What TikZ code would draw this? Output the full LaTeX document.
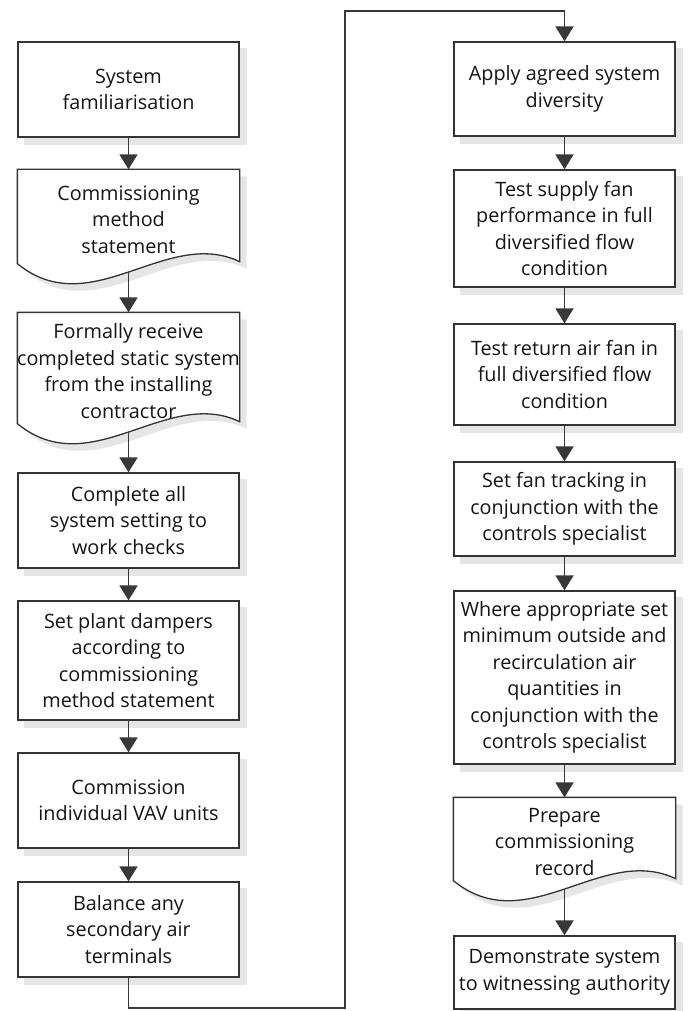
\documentclass[tikz,border=0pt]{standalone}
\usepackage{fontspec}
\setmainfont{Open Sans}
\usetikzlibrary{arrows.meta,calc}
\pgfdeclarelayer{shade}
\pgfdeclarelayer{links}
\pgfsetlayers{shade,links,main}

\definecolor{boxline}{gray}{0.2}
\definecolor{linecol}{gray}{0.22}
\definecolor{textcol}{gray}{0.08}
\definecolor{shadecol}{gray}{0.9}

\tikzset{
  box/.style={draw=boxline, line width=1.3pt, fill=white, minimum width=221pt,
    inner sep=0pt, align=center, text=textcol,
    font=\fontsize{19.8}{26.5}\selectfont},
  docbox/.style={box, draw=none, fill=none},
  link/.style={draw=linecol, line width=1.9pt,
    -{Triangle[length=15pt,width=18pt]}},
}

% drop shadow of a rectangular step
\newcommand\rectshadow[1]{%
  \begin{pgfonlayer}{shade}
    \fill[shadecol] ($(#1.north west)+(7,7)$) rectangle ($(#1.south east)+(7,7)$);
  \end{pgfonlayer}}

% document shape (wavy lower edge) around a docbox node, with its text
\newcommand\docshape[2]{%
  \begin{pgfonlayer}{shade}
    \fill[shadecol] ($(#1.north west)+(7,7)$) -- ($(#1.north east)+(7,7)$)
      -- ($(#1.south east)+(7,5)$)
      .. controls ($(#1.south east)+(-66.7,-30)$) and ($(#1.south west)+(80.7,67)$)
      .. ($(#1.south west)+(7,7)$) -- cycle;
  \end{pgfonlayer}
  \draw[boxline, line width=1.3pt, fill=white]
    (#1.north west) -- (#1.north east) -- ($(#1.south east)+(0,-2)$)
    .. controls ($(#1.south east)+(-73.7,-37)$) and ($(#1.south west)+(73.7,60)$)
    .. (#1.south west) -- cycle;
  \node[docbox, minimum height=0pt] (#1text) at ($(#1)+(0,3)$) {#2};}

\begin{document}
\begin{tikzpicture}[x=1pt,y=-1pt]
\useasboundingbox (0,0) rectangle (694,1011);

% left column
\node[box, minimum height=95pt]  (l1) at (128.5,89.5) {System\\familiarisation};
\node[docbox, minimum height=93pt] (l2) at (128.5,216.5) {};
\node[docbox, minimum height=110pt] (l3) at (128.5,368) {};
\node[box, minimum height=95pt]  (l4) at (128.5,520.5) {Complete all\\system setting to\\work checks};
\node[box, minimum height=119pt] (l5) at (128.5,660.5) {Set plant dampers\\according to\\commissioning\\method statement};
\node[box, minimum height=95pt]  (l6) at (128.5,800.5) {Commission\\individual VAV units};
\node[box, minimum height=95pt]  (l7) at (128.5,929.5) {Balance any\\secondary air\\terminals};

% right column
\node[box, minimum height=94pt]  (r1) at (564.5,89) {Apply agreed system\\diversity};
\node[box, minimum height=117pt] (r2) at (564.5,228.5) {Test supply fan\\performance in full\\diversified flow\\condition};
\node[box, minimum height=101pt] (r3) at (564.5,374.5) {Test return air fan in\\full diversified flow\\condition};
\node[box, minimum height=94pt]  (r4) at (564.5,509) {Set fan tracking in\\conjunction with the\\controls specialist};
\node[box, minimum height=173pt] (r5) at (564.5,677.5) {Where appropriate set\\minimum outside and\\recirculation air\\quantities in\\conjunction with the\\controls specialist};
\node[docbox, minimum height=82pt] (r6) at (564.5,839) {};
\node[box, minimum height=73pt]  (r7) at (564.5,972.5) {Demonstrate system\\to witnessing authority};

% document-shaped steps
\docshape{l2}{Commissioning\\method\\statement}
\docshape{l3}{Formally receive\\completed static system\\from the installing\\contractor}
\docshape{r6}{Prepare\\commissioning\\record}

\foreach \n in {l1,l4,l5,l6,l7,r1,r2,r3,r4,r5,r7} {\rectshadow{\n}}

% turning points of the link between the columns
\coordinate (lowturn) at (345,1008);
\coordinate (topturn) at (345,11);

\begin{pgfonlayer}{links}
  \draw[link] (l1) -- (l2);
  \draw[link] (l2) -- (l3);
  \draw[link] (l3) -- (l4);
  \draw[link] (l4) -- (l5);
  \draw[link] (l5) -- (l6);
  \draw[link] (l6) -- (l7);
  \draw[link] (l7.south) |- (lowturn) -- (topturn) -| (r1.north);
  \draw[link] (r1) -- (r2);
  \draw[link] (r2) -- (r3);
  \draw[link] (r3) -- (r4);
  \draw[link] (r4) -- (r5);
  \draw[link] (r5) -- (r6);
  \draw[link] (r6) -- (r7);
\end{pgfonlayer}
\end{tikzpicture}
\end{document}
